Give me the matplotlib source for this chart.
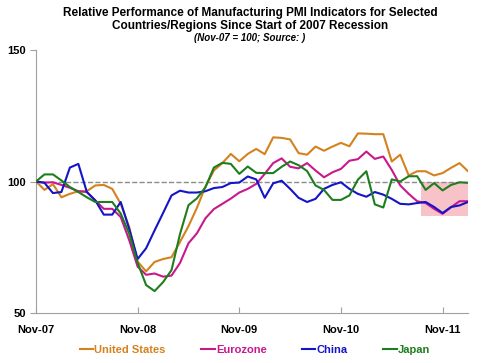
import numpy as np
from matplotlib import pyplot as plt
from matplotlib.patches import Rectangle

plt.rcParams['font.family'] = ['Liberation Sans', 'DejaVu Sans']

# monthly index values, Nov-07 .. Feb-12 (Nov-07 = 100)
us = [100, 96.8, 99, 94, 95.3, 96.3, 96.3, 98.5, 98.7, 97.2, 91.5, 82.7, 69.5, 65.8,
      69.4, 70.5, 71.2, 77, 83, 90, 98, 104.2, 107, 110.5, 107.7, 110.5, 112.4, 110.4,
      116.8, 116.6, 116, 110.8, 110.2, 113.3, 111.7, 113.3, 114.7, 113.4, 118.3, 118.2,
      118, 118, 107.6, 110.2, 102.3, 103.9, 103.9, 102.3, 103.2, 105.2, 107, 103.9]
eurozone = [100, 99.6, 99.7, 98.7, 97.6, 96.3, 96, 92.8, 89.6, 89.6, 86.5, 77.7, 67.6, 64.5,
            65, 63.8, 64.2, 69, 76.5, 80.3, 86, 89.5, 91.5, 93.5, 95.8, 97.2, 99.1, 102.9,
            107, 108.8, 105.6, 105, 107, 104.2, 101.6, 103.5, 104.8, 107.9, 108.5, 111.4,
            108.6, 109.5, 104.4, 98.5, 95.3, 92.5, 91.8, 89.6, 87.7, 90.2, 92.5, 92.5]
china = [100, 99.5, 95.6, 96, 105.3, 106.7, 96, 92.8, 87.4, 87.4, 92.2, 82, 70.5, 74.6,
         81.4, 88, 94.7, 96.5, 95.8, 95.8, 96.3, 97.5, 97.9, 99.4, 99.6, 101.9, 100.8, 93.8,
         99.3, 100.3, 97.2, 93.8, 92.2, 93.4, 97.2, 98.7, 99.7, 97.2, 95.3, 94.2,
         96, 95, 93.4, 91.5, 91.3, 91.8, 92.2, 90.3, 88, 90.3, 90.9, 92.2]
japan = [100, 102.7, 102.7, 100.4, 97.9, 96, 94, 92.2, 92.2, 92.2, 87.8, 80.2, 69, 60.6,
         58.3, 61.7, 66.3, 80, 91, 93.6, 97.8, 105.3, 107.1, 106.7, 102.9, 105.7, 103.3, 103.2,
         103.2, 105.6, 107.6, 106.2, 104, 98.5, 96.8, 93, 93, 94.7, 100.7, 103.9,
         91.3, 90.1, 100.8, 100, 102, 102, 96.8, 99.4, 96.6, 98.7, 99.7, 99.5]
tick_labels = ['Nov-07', 'Nov-08', 'Nov-09', 'Nov-10', 'Nov-11']

months = np.arange(len(us))

fig = plt.figure(figsize=(5, 3.63), dpi=100)
ax = fig.add_axes([0.072, 0.138, 0.864, 0.724])

ax.add_patch(Rectangle((45.5, 87), 5.7, 13, facecolor='#f7c3c9', edgecolor='none', zorder=1))
ax.axhline(100, color='#8c8c8c', linestyle='--', linewidth=1, zorder=2)

ax.plot(months, us, color='#d4821e', linewidth=1.5, label='United States', zorder=3)
ax.plot(months, eurozone, color='#c8198c', linewidth=1.5, label='Eurozone', zorder=3)
ax.plot(months, china, color='#1414c8', linewidth=1.5, label='China', zorder=3)
ax.plot(months, japan, color='#1e7d1e', linewidth=1.5, label='Japan', zorder=3)

ax.set_xlim(0, 51)
ax.set_ylim(50, 150)
ax.set_yticks([50, 100, 150])
ax.set_xticks(np.arange(0, 52, 12))
ax.set_xticklabels(tick_labels)
for lab in ax.get_xticklabels() + ax.get_yticklabels():
    lab.set_fontweight('bold')
    lab.set_fontsize(8)
ax.tick_params(axis='x', direction='in', length=4, color='#a0a0a0', pad=9)
ax.tick_params(axis='y', direction='out', length=4, color='#a0a0a0', pad=3)

for s in ['top', 'right']:
    ax.spines[s].set_visible(False)
for s in ['left', 'bottom']:
    ax.spines[s].set_color('#a0a0a0')

fig.text(0.5, 0.965, 'Relative Performance of Manufacturing PMI Indicators for Selected',
         ha='center', va='center', fontsize=8.5, fontweight='bold')
fig.text(0.5, 0.929, 'Countries/Regions Since Start of 2007 Recession',
         ha='center', va='center', fontsize=8.5, fontweight='bold')
fig.text(0.5, 0.896, '(Nov-07 = 100; Source: )',
         ha='center', va='center', fontsize=7, fontweight='bold', style='italic')

leg = fig.legend(loc='center', bbox_to_anchor=(0.51, 0.035), ncol=4, frameon=False,
                 handlelength=1.2, handletextpad=0.1, columnspacing=3.2,
                 labelcolor='linecolor', prop={'weight': 'bold', 'size': 8})

fig.savefig('out.png', dpi=100)
